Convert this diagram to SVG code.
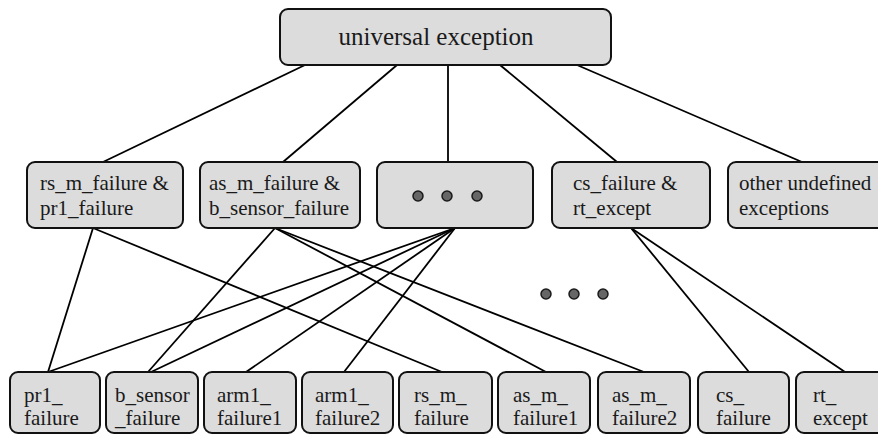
<svg xmlns="http://www.w3.org/2000/svg" width="878" height="434" viewBox="0 0 878 434" font-family="Liberation Serif, Times New Roman, serif">
<style>
.box{fill:#dcdcdc;stroke:#111;stroke-width:2}
.t{font-family:'Liberation Serif','Times New Roman',serif;font-size:21px;fill:#1a1a1a}
.big{font-size:25px}
.dot{fill:#666;stroke:#1a1a1a;stroke-width:1.5}
#connectors line{stroke:#000;stroke-width:1.8}
</style>
<rect width="878" height="434" fill="#fff"/>
<g id="connectors">
<line x1="305" y1="65" x2="103" y2="162"/>
<line x1="397" y1="65" x2="283" y2="162"/>
<line x1="448" y1="65" x2="448" y2="162"/>
<line x1="500" y1="65" x2="617" y2="162"/>
<line x1="577" y1="65" x2="802" y2="162"/>
<line x1="93" y1="228" x2="48" y2="372"/>
<line x1="93" y1="228" x2="442" y2="372"/>
<line x1="275" y1="228" x2="148" y2="372"/>
<line x1="275" y1="228" x2="546" y2="372"/>
<line x1="275" y1="228" x2="644" y2="372"/>
<line x1="455" y1="228" x2="48" y2="372"/>
<line x1="455" y1="228" x2="151" y2="372"/>
<line x1="455" y1="228" x2="246" y2="372"/>
<line x1="455" y1="228" x2="344" y2="372"/>
<line x1="631" y1="228" x2="749" y2="372"/>
<line x1="631" y1="228" x2="845" y2="372"/>
</g>
<g id="universal">
<rect class="box" x="280" y="9" width="331" height="56" rx="8"/>
<text class="t big" x="436" y="45" text-anchor="middle">universal exception</text>
</g>
<g id="rs_pr1">
<rect class="box" x="27" y="162" width="156" height="66" rx="8"/>
<text class="t" x="40" y="190">rs_m_failure &amp;</text>
<text class="t" x="40" y="215">pr1_failure</text>
</g>
<g id="as_bsensor">
<rect class="box" x="200" y="162" width="160" height="66" rx="8"/>
<text class="t" x="209" y="190">as_m_failure &amp;</text>
<text class="t" x="209" y="215">b_sensor_failure</text>
</g>
<g id="dots_box">
<rect class="box" x="377" y="162" width="156" height="66" rx="8"/>
<circle class="dot" cx="418" cy="196" r="5"/>
<circle class="dot" cx="447" cy="196" r="5"/>
<circle class="dot" cx="477" cy="196" r="5"/>
</g>
<g id="cs_rt">
<rect class="box" x="552" y="162" width="158" height="66" rx="8"/>
<text class="t" x="573" y="190">cs_failure &amp;</text>
<text class="t" x="573" y="215">rt_except</text>
</g>
<g id="other">
<rect class="box" x="728" y="162" width="160" height="66" rx="8"/>
<text class="t" x="739" y="190">other undefined</text>
<text class="t" x="739" y="215">exceptions</text>
</g>
<g id="more_dots">
<circle class="dot" cx="546" cy="294" r="5"/>
<circle class="dot" cx="574" cy="294" r="5"/>
<circle class="dot" cx="603" cy="294" r="5"/>
</g>
<g id="pr1_failure">
<rect class="box" x="10" y="372" width="90" height="61" rx="8"/>
<text class="t" x="24" y="402">pr1_</text>
<text class="t" x="24" y="425">failure</text>
</g>
<g id="b_sensor_failure">
<rect class="box" x="106" y="372" width="92" height="61" rx="8"/>
<text class="t" x="115" y="402">b_sensor</text>
<text class="t" x="115" y="425">_failure</text>
</g>
<g id="arm1_failure1">
<rect class="box" x="204" y="372" width="92" height="61" rx="8"/>
<text class="t" x="217" y="402">arm1_</text>
<text class="t" x="217" y="425">failure1</text>
</g>
<g id="arm1_failure2">
<rect class="box" x="302" y="372" width="91" height="61" rx="8"/>
<text class="t" x="315" y="402">arm1_</text>
<text class="t" x="315" y="425">failure2</text>
</g>
<g id="rs_m_failure">
<rect class="box" x="399" y="372" width="93" height="61" rx="8"/>
<text class="t" x="414" y="402">rs_m_</text>
<text class="t" x="414" y="425">failure</text>
</g>
<g id="as_m_failure1">
<rect class="box" x="498" y="372" width="92" height="61" rx="8"/>
<text class="t" x="513" y="402">as_m_</text>
<text class="t" x="513" y="425">failure1</text>
</g>
<g id="as_m_failure2">
<rect class="box" x="598" y="372" width="92" height="61" rx="8"/>
<text class="t" x="612" y="402">as_m_</text>
<text class="t" x="612" y="425">failure2</text>
</g>
<g id="cs_failure">
<rect class="box" x="698" y="372" width="91" height="61" rx="8"/>
<text class="t" x="716" y="402">cs_</text>
<text class="t" x="716" y="425">failure</text>
</g>
<g id="rt_except">
<rect class="box" x="796" y="372" width="92" height="61" rx="8"/>
<text class="t" x="813" y="402">rt_</text>
<text class="t" x="813" y="425">except</text>
</g>
</svg>
